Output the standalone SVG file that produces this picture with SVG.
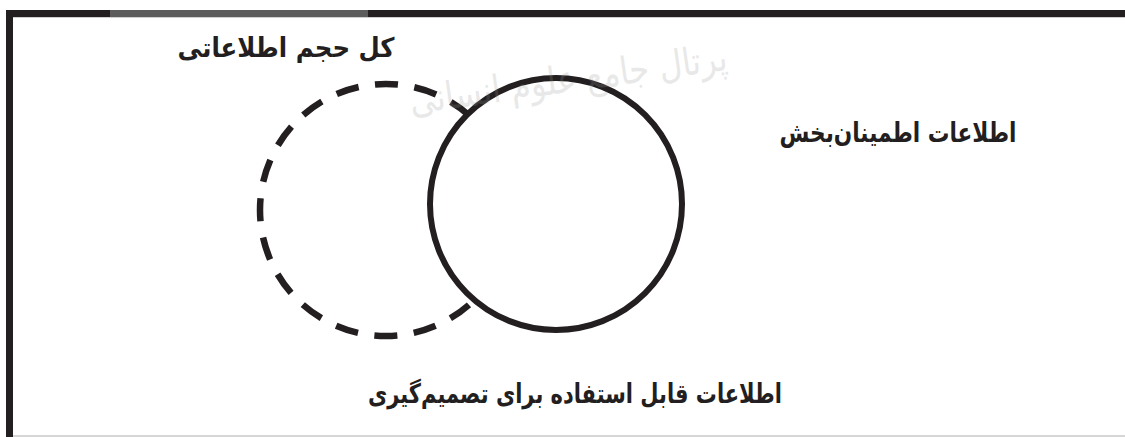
<svg xmlns="http://www.w3.org/2000/svg" width="1125" height="437" viewBox="0 0 1125 437">
  <style>
    .lbl { font-family: "DejaVu Sans", "Noto Sans", sans-serif; font-weight: bold; font-size: 27px; fill: #231f20; text-anchor: middle; }
    .wm { font-family: "DejaVu Sans", "Noto Sans", sans-serif; font-size: 38px; fill: #9a9a9a; opacity: 0.22; text-anchor: middle; }
  </style>
  <rect width="1125" height="437" fill="#ffffff"/>
  <g id="frame">
    <rect x="6" y="10" width="1119" height="7" fill="#231f20"/>
    <rect x="110" y="10" width="258" height="7" fill="#5c5c5c"/>
    <line x1="13" y1="17.5" x2="1125" y2="17.5" stroke="#cfcfcf" stroke-width="1"/>
    <rect x="6" y="10" width="7" height="427" fill="#231f20"/>
    <line x1="13" y1="436" x2="1125" y2="436" stroke="#c8c8c8" stroke-width="1.5"/>
  </g>
  <g id="node-total">
    <circle cx="386" cy="210" r="126" fill="none" stroke="#231f20" stroke-width="6.5" stroke-dasharray="23 16.6" stroke-dashoffset="11.5"/>
  </g>
  <g id="node-reliable">
    <circle cx="556" cy="204" r="126" fill="#ffffff" stroke="#231f20" stroke-width="6"/>
  </g>
  <g id="connectors"></g>
  <g id="labels">
    <text class="lbl" x="286" y="57" direction="rtl" textLength="217" lengthAdjust="spacingAndGlyphs">کل حجم اطلاعاتی</text>
    <text class="lbl" x="898" y="142" direction="rtl" textLength="237" lengthAdjust="spacingAndGlyphs">اطلاعات اطمینان‌بخش</text>
    <text class="lbl" x="575" y="403" direction="rtl" textLength="414" lengthAdjust="spacingAndGlyphs">اطلاعات قابل استفاده برای تصمیم‌گیری</text>
  </g>
  <g id="watermark">
    <text class="wm" x="570" y="92" direction="rtl" textLength="320" lengthAdjust="spacingAndGlyphs" transform="rotate(-8 570 92)">پرتال جامع علوم انسانی</text>
  </g>
</svg>
